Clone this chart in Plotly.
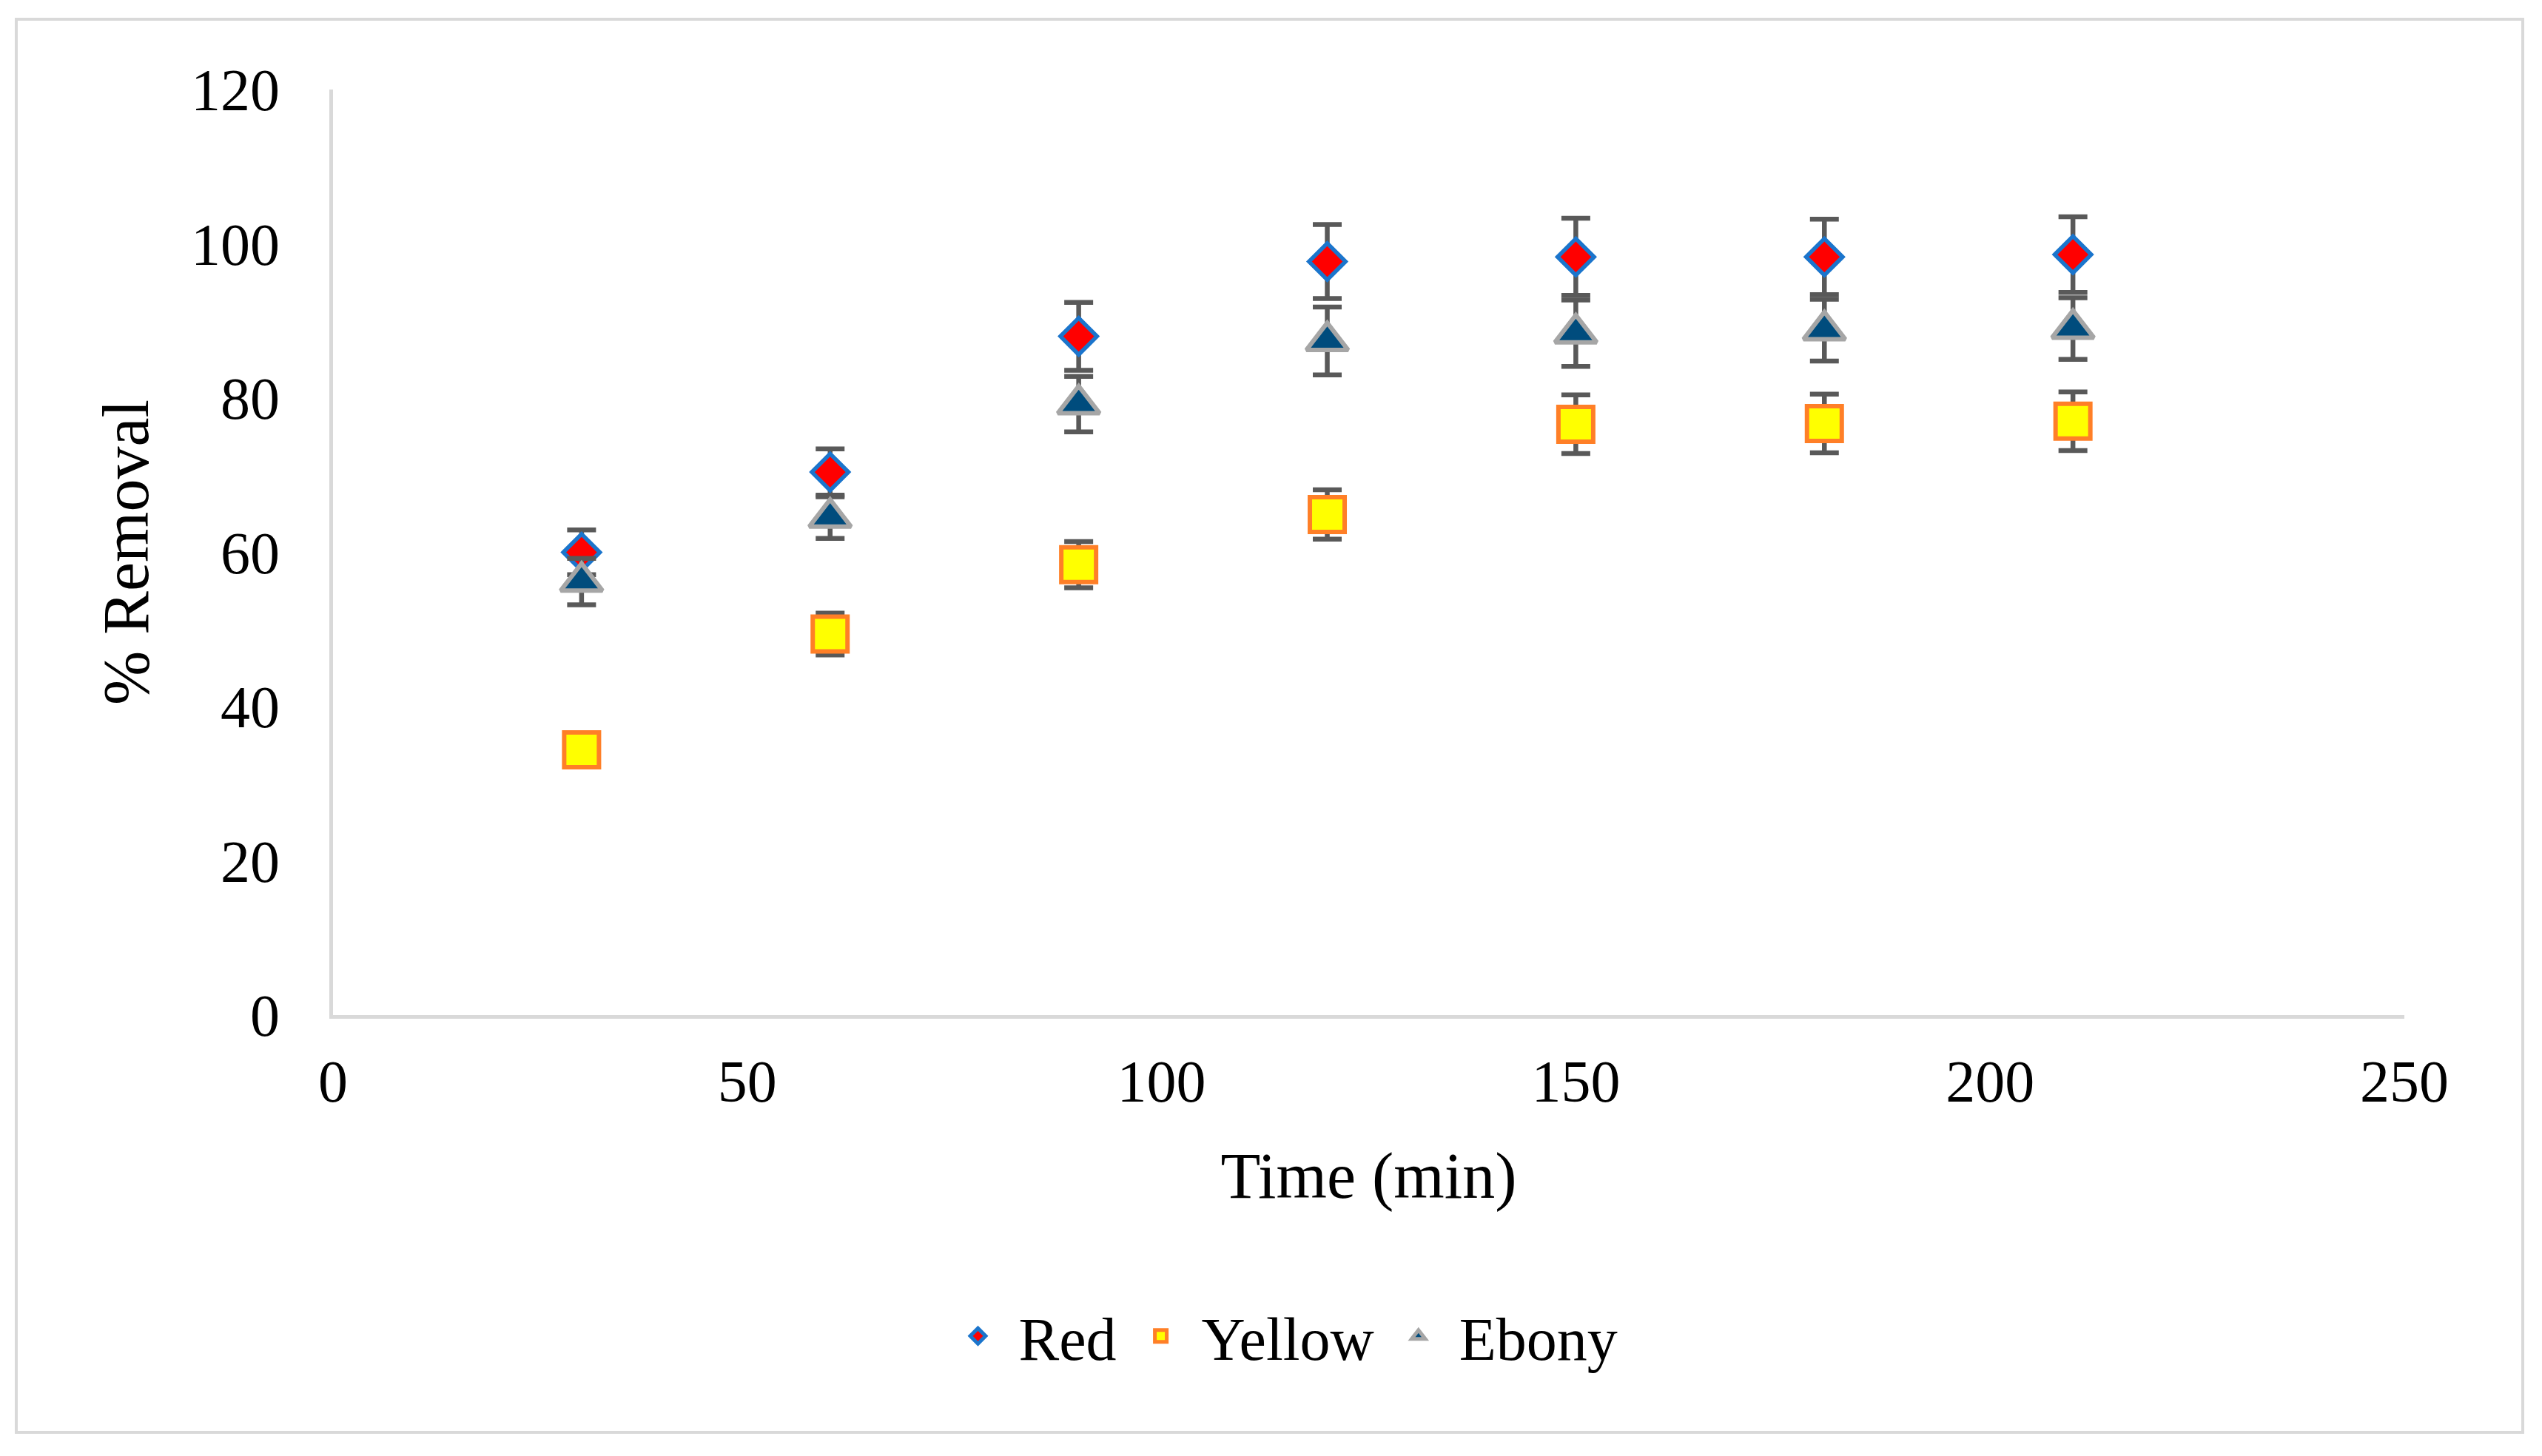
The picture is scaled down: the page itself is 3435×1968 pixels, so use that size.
import plotly.graph_objects as go

time_min = [30, 60, 90, 120, 150, 180, 210]
red = [60.0, 70.4, 88.0, 97.7, 98.3, 98.3, 98.6]
red_err = [2.9, 3.0, 4.4, 4.8, 5.0, 4.9, 4.9]
yellow = [34.4, 49.4, 58.4, 64.9, 76.6, 76.7, 77.0]
yellow_err = [2.0, 2.7, 3.0, 3.2, 3.8, 3.8, 3.8]
ebony = [56.2, 64.5, 79.2, 87.4, 88.4, 88.8, 89.0]
ebony_err = [3.0, 2.7, 3.6, 4.4, 4.3, 4.0, 4.0]

x_ticks = [0, 50, 100, 150, 200, 250]
y_ticks = [0, 20, 40, 60, 80, 100, 120]

FONT = "Liberation Serif, Times New Roman, serif"
ERR_COLOR = "#595959"

def err(vals):
    return dict(type="data", array=vals, visible=True, color=ERR_COLOR,
                thickness=6.5, width=19.5)

fig = go.Figure()
fig.add_trace(go.Scatter(
    x=time_min, y=red, name="Red", mode="markers",
    error_y=err(red_err),
    marker=dict(symbol="diamond", size=38, color="#FF0000",
                line=dict(color="#1B75CC", width=5.5)),
))
fig.add_trace(go.Scatter(
    x=time_min, y=yellow, name="Yellow", mode="markers",
    error_y=err(yellow_err),
    marker=dict(symbol="square", size=47, color="#FFFF00",
                line=dict(color="#FF7F27", width=6)),
))
fig.add_trace(go.Scatter(
    x=time_min, y=ebony, name="Ebony", mode="markers",
    error_y=err(ebony_err),
    marker=dict(symbol="triangle-up", size=49, color="#004C7D",
                line=dict(color="#A6A6A6", width=6)),
))

W, H = 3435, 1968
OFF = 8  # page body margin
pw, ph = 2799, 1251
L, T = 450 - OFF, 121 - OFF
R, B = W - L - pw, H - T - ph

def px2paper_x(px):
    return (px - OFF - L) / pw

def px2paper_y(py):
    return (T + ph - (py - OFF)) / ph

fig.update_layout(
    width=W, height=H,
    margin=dict(l=L, r=R, t=T, b=B, autoexpand=False),
    paper_bgcolor="white", plot_bgcolor="white",
    font=dict(family=FONT, color="black", size=80),
    showlegend=True,
    legend=dict(orientation="h", x=px2paper_x(1729), xanchor="center",
                y=px2paper_y(1806), yanchor="middle",
                font=dict(family=FONT, size=82, color="black"),
                itemsizing="trace", itemwidth=100, bgcolor="rgba(0,0,0,0)"),
    xaxis=dict(range=[0, 250], tickvals=x_ticks, showgrid=False, zeroline=False,
               showline=True, linecolor="#D9D9D9", linewidth=5, ticks="",
               ticklabelstandoff=16, automargin=False,
               tickfont=dict(family=FONT, size=80, color="black"),
               title=dict(text="Time (min)", standoff=54,
                          font=dict(family=FONT, size=88, color="black"))),
    yaxis=dict(range=[0, 120], tickvals=y_ticks, showgrid=False, zeroline=False,
               showline=True, linecolor="#D9D9D9", linewidth=5, ticks="",
               ticklabelstandoff=51, automargin=False,
               tickfont=dict(family=FONT, size=80, color="black"),
               title=dict(text="% Removal", standoff=30,
                          font=dict(family=FONT, size=88, color="black"))),
    shapes=[dict(type="rect", xref="paper", yref="paper",
                 x0=px2paper_x(22), x1=px2paper_x(3409),
                 y0=px2paper_y(1936), y1=px2paper_y(26),
                 line=dict(color="#D9D9D9", width=4), fillcolor="rgba(0,0,0,0)",
                 layer="below")],
)

fig.write_html("out.html")
